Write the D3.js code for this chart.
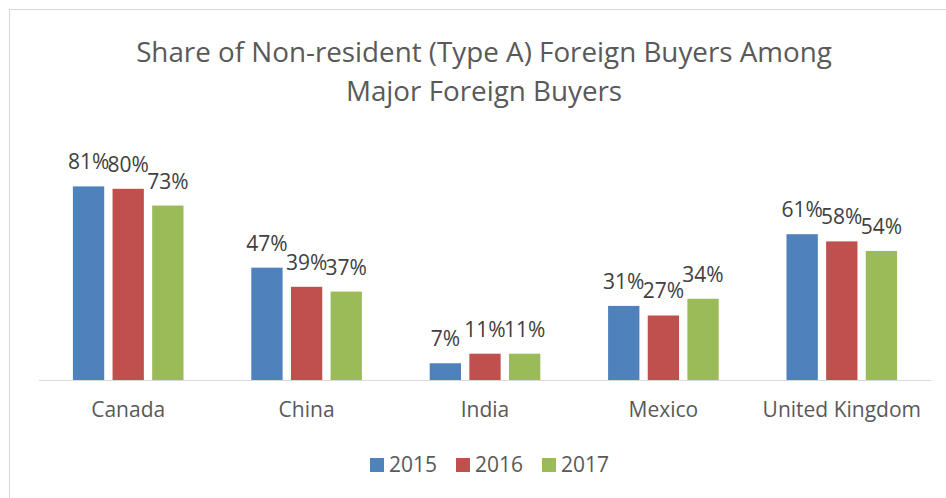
<!DOCTYPE html>
<html>
<head>
    <title>Share of Non-resident Foreign Buyers</title>
    <meta charset="utf-8">
    <style>
        body { margin: 0; background: white; }
        text { font-family: "Open Sans", "DejaVu Sans", sans-serif; }
    </style>
</head>
<body>
<svg id="container" width="946" height="498"></svg>
<!-- load the d3.js library -->
<script src="https://d3js.org/d3.v7.min.js"></script>
<script>

// data
var categories = ["Canada", "China", "India", "Mexico", "United Kingdom"];
var years = ["2015", "2016", "2017"];
var share2015 = [81, 47, 7, 31, 61];
var share2016 = [80, 39, 11, 27, 58];
var share2017 = [73, 37, 11, 34, 54];
var colors = ["#4F81BD", "#C0504D", "#9BBB59"];
var titleLines = ["Share of Non-resident (Type A) Foreign Buyers Among", "Major Foreign Buyers"];

var seriesValues = [share2015, share2016, share2017];

var svg = d3.select("#container");

// light frame round the chart (right and bottom run off the picture)
svg.append("rect")
    .attr("x", 9.5).attr("y", 9.5)
    .attr("width", 1000).attr("height", 1000)
    .attr("fill", "white")
    .attr("stroke", "#d9d9d9");

// set the ranges
var x0 = d3.scaleBand()
    .domain(categories)
    .range([39, 931])
    .paddingInner(0.38)
    .paddingOuter(0.19);

var x1 = d3.scaleBand()
    .domain(years)
    .range([0, x0.bandwidth()])
    .paddingInner(0.21);

var y = d3.scaleLinear().domain([0, 100]).range([380, 141]);

// title, two lines, shrunk to the width seen in the picture
var title = svg.append("g").attr("class", "title");
title.selectAll("text")
    .data(titleLines)
    .enter().append("text")
    .attr("x", 484)
    .attr("y", function(d, i) { return 62 + i * 39; })
    .attr("text-anchor", "middle")
    .attr("fill", "#595959")
    .style("font-size", "28px")
    .text(function(d) { return d; });
var firstLine = title.select("text").node();
var titleSize = 28 * 696 / firstLine.getComputedTextLength();
title.selectAll("text").style("font-size", titleSize + "px");

// one group per country
var groups = svg.selectAll(".group")
    .data(categories)
    .enter().append("g")
    .attr("class", "group")
    .attr("transform", function(d) { return "translate(" + x0(d) + ",0)"; });

groups.selectAll("rect")
    .data(function(d, i) {
        return years.map(function(yr, j) { return {year: yr, value: seriesValues[j][i], color: colors[j]}; });
    })
    .enter().append("rect")
    .attr("x", function(d) { return x1(d.year); })
    .attr("y", function(d) { return y(d.value); })
    .attr("width", x1.bandwidth())
    .attr("height", function(d) { return y(0) - y(d.value); })
    .attr("fill", function(d) { return d.color; });

// value labels above the bars
groups.selectAll(".label")
    .data(function(d, i) {
        return years.map(function(yr, j) { return {year: yr, value: seriesValues[j][i]}; });
    })
    .enter().append("text")
    .attr("class", "label")
    .attr("x", function(d) { return x1(d.year) + x1.bandwidth() / 2; })
    .attr("y", function(d) { return y(d.value) - 17; })
    .attr("text-anchor", "middle")
    .attr("fill", "#404040")
    .style("font-size", "21px")
    .text(function(d) { return d.value + "%"; });

// X axis: just the baseline and the category names
var xAxis = svg.append("g")
    .attr("transform", "translate(0,380)")
    .call(d3.axisBottom(x0).tickSize(0).tickPadding(22));
xAxis.select(".domain").attr("stroke", "#d9d9d9").attr("d", "M39,0.5H931");
xAxis.selectAll("text")
    .attr("fill", "#595959")
    .style("font-size", "21px")
    .style("font-family", "'Open Sans', sans-serif");

// legend
var legend = svg.selectAll(".legend")
    .data(years)
    .enter().append("g")
    .attr("class", "legend")
    .attr("transform", function(d, i) { return "translate(" + (370 + i * 86) + ",458)"; });

legend.append("rect")
    .attr("width", 14).attr("height", 14)
    .attr("fill", function(d, i) { return colors[i]; });

legend.append("text")
    .attr("x", 19).attr("y", 14)
    .attr("fill", "#595959")
    .style("font-size", "21px")
    .text(function(d) { return d; });

</script>
</body>
</html>
